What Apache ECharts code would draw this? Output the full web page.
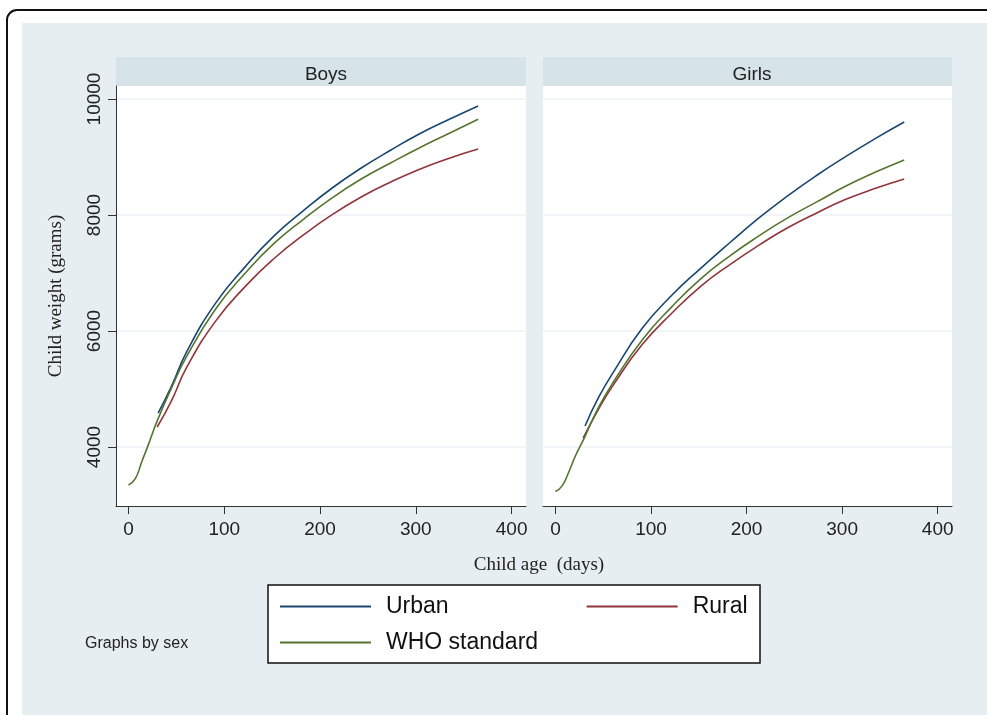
<!DOCTYPE html>
<html><head><meta charset="utf-8">
<script src="https://cdn.jsdelivr.net/npm/echarts@6/dist/echarts.min.js"></script>
<style>html,body{margin:0;padding:0;background:#fff}#c{width:987px;height:715px}</style>
</head><body><div id="c"></div>
<script>
// ---- data (days, grams) ----
const panels = ['Boys', 'Girls'];
const xTicks = [0, 100, 200, 300, 400];
const yTicks = [4000, 6000, 8000, 10000];

const boysUrbanDays = [31, 45, 61, 91, 122, 152, 183, 213, 243, 274, 304, 335, 365];
const boysUrban     = [4586, 5050, 5650, 6480, 7110, 7640, 8080, 8470, 8810, 9120, 9400, 9650, 9880];
const boysRuralDays = [30, 45, 61, 91, 122, 152, 183, 213, 243, 274, 304, 335, 365];
const boysRural     = [4345, 4800, 5380, 6170, 6770, 7250, 7660, 8010, 8310, 8570, 8790, 8980, 9138];
const boysWhoDays   = [0, 7, 14, 21, 30, 45, 61, 91, 122, 152, 183, 213, 243, 274, 304, 335, 365];
const boysWho       = [3346, 3450, 3750, 4050, 4450, 5020, 5570, 6380, 7000, 7510, 7930, 8300, 8620, 8900, 9160, 9410, 9650];

const girlsUrbanDays = [31, 45, 61, 91, 122, 152, 183, 213, 243, 274, 304, 335, 365];
const girlsUrban     = [4362, 4850, 5300, 6050, 6620, 7080, 7530, 7950, 8330, 8690, 9010, 9320, 9603];
const girlsRuralDays = [29, 45, 61, 91, 122, 152, 183, 213, 243, 274, 304, 335, 365];
const girlsRural     = [4155, 4650, 5080, 5770, 6310, 6770, 7150, 7480, 7780, 8040, 8270, 8460, 8621];
const girlsWhoDays   = [0, 7, 14, 21, 30, 45, 61, 91, 122, 152, 183, 213, 243, 274, 304, 335, 365];
const girlsWho       = [3232, 3330, 3570, 3850, 4150, 4680, 5130, 5850, 6420, 6900, 7300, 7640, 7950, 8230, 8500, 8740, 8950];

const seriesNames = ['Urban', 'Rural', 'WHO standard'];
const colors = ['#1a476f', '#90353b', '#55752f'];

function pairs(xs, ys) { return xs.map((x, i) => [x, ys[i]]); }
const panelData = [
  [pairs(boysUrbanDays, boysUrban), pairs(boysRuralDays, boysRural), pairs(boysWhoDays, boysWho)],
  [pairs(girlsUrbanDays, girlsUrban), pairs(girlsRuralDays, girlsRural), pairs(girlsWhoDays, girlsWho)]
];

const BG = '#e7eef1', HEAD = '#d6e3e9';
const grids = [
  { left: 116, top: 86, width: 410, height: 420 },
  { left: 543, top: 86, width: 409, height: 420 }
];
const sans = 'Liberation Sans, Arial, sans-serif';
const serif = 'Liberation Serif, Times New Roman, serif';

const xAxes = grids.map((g, i) => ({
  type: 'value', gridIndex: i, min: -13, max: 415,
  axisLine: { show: true, onZero: false, lineStyle: { color: '#333', width: 1 } },
  axisTick: { show: true, length: 8, lineStyle: { color: '#333' }, customValues: xTicks },
  axisLabel: { customValues: xTicks, margin: 14, fontSize: 19, color: '#222', fontFamily: sans, formatter: v => String(v) },
  splitLine: { show: false }
}));
const yAxes = grids.map((g, i) => ({
  type: 'value', gridIndex: i, min: 2983, max: 10224,
  axisLine: { show: i === 0, onZero: false, lineStyle: { color: '#333', width: 1 } },
  axisTick: { show: i === 0, length: 8, lineStyle: { color: '#333' }, customValues: yTicks },
  axisLabel: { show: i === 0, customValues: yTicks, rotate: 90, margin: 12, fontSize: 19, color: '#222', fontFamily: sans, formatter: v => String(v) },
  splitLine: { show: true, lineStyle: { color: '#eef2f4', width: 1.5 } },
  name: i === 0 ? 'Child weight (grams)' : '',
  nameLocation: 'middle', nameGap: 50, nameRotate: 90,
  nameTextStyle: { fontSize: 19, fontFamily: serif, color: '#222' }
}));

const series = [];
panelData.forEach((sets, p) => {
  sets.forEach((d, k) => {
    series.push({
      type: 'line', name: seriesNames[k], xAxisIndex: p, yAxisIndex: p,
      data: d, smooth: true, symbol: 'none', showSymbol: false,
      lineStyle: { color: colors[k], width: 1.6 }, itemStyle: { color: colors[k] },
      z: 3 + k
    });
  });
});

const legendText = { fontSize: 23, fontFamily: sans, color: '#111', padding: [0, 0, 0, 10] };
const option = {
  animation: false,
  backgroundColor: '#ffffff',
  grid: grids.map(g => Object.assign({ containLabel: false }, g)),
  xAxis: xAxes, yAxis: yAxes, series,
  title: [
    { text: panels[0], left: 321, top: 60, textAlign: 'center', textStyle: { fontSize: 19, fontWeight: 'normal', fontFamily: sans, color: '#222' } },
    { text: panels[1], left: 747, top: 60, textAlign: 'center', textStyle: { fontSize: 19, fontWeight: 'normal', fontFamily: sans, color: '#222' } },
    { text: 'Child age  (days)', left: 534, top: 551, textAlign: 'center', textStyle: { fontSize: 19, fontWeight: 'normal', fontFamily: serif, color: '#222' } },
    { text: 'Graphs by sex', left: 80, top: 631, textStyle: { fontSize: 16, fontWeight: 'normal', fontFamily: sans, color: '#222' } }
  ],
  legend: [
    { data: ['Urban', 'Rural'], left: 280, top: 595, icon: 'rect', itemWidth: 91, itemHeight: 1.8, itemGap: 138, padding: 0,
      textStyle: legendText },
    { data: ['WHO standard'], left: 280, top: 631, icon: 'rect', itemWidth: 91, itemHeight: 1.8, padding: 0,
      textStyle: legendText }
  ],
  graphic: [
    { type: 'rect', z: -10, shape: { x: 22, y: 23, width: 970, height: 700 }, style: { fill: BG } },
    { type: 'rect', z: -9, shape: { x: 7, y: 10, width: 1000, height: 720, r: 10 }, style: { fill: 'none', stroke: '#111', lineWidth: 2 } },
    { type: 'rect', z: -8, shape: { x: 116, y: 57, width: 410, height: 29 }, style: { fill: HEAD } },
    { type: 'rect', z: -8, shape: { x: 543, y: 57, width: 409, height: 29 }, style: { fill: HEAD } },
    { type: 'rect', z: -8, shape: { x: 116, y: 86, width: 410, height: 420 }, style: { fill: '#ffffff' } },
    { type: 'rect', z: -8, shape: { x: 543, y: 86, width: 409, height: 420 }, style: { fill: '#ffffff' } },
    { type: 'rect', z: -7, shape: { x: 268, y: 585, width: 492, height: 78 }, style: { fill: '#ffffff', stroke: '#111', lineWidth: 1.5 } }
  ]
};
const chart = echarts.init(document.getElementById('c'), null, { renderer: 'canvas' });
chart.setOption(option);
</script></body></html>
